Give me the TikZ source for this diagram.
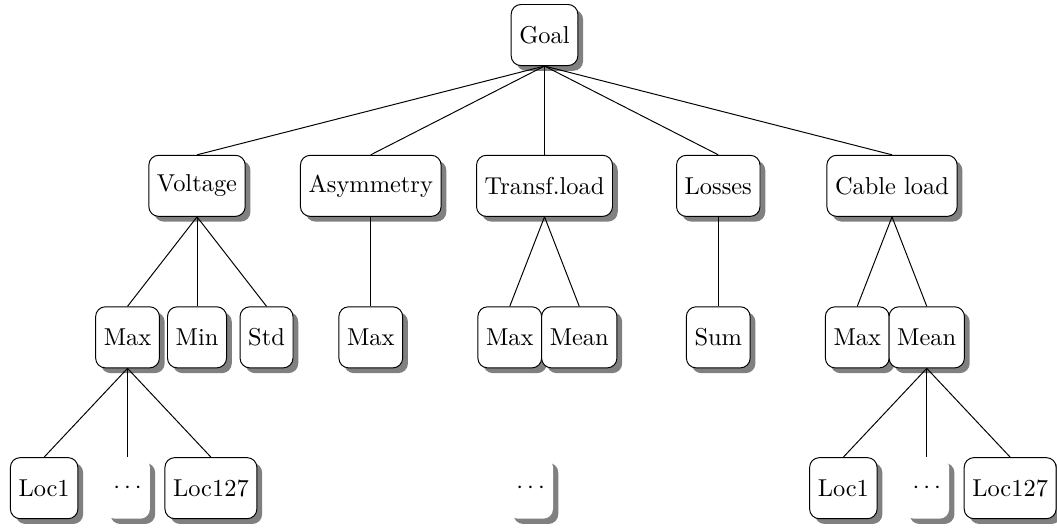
\documentclass[tikz,border=0pt]{standalone}
\usetikzlibrary{shadows}
\begin{document}
\begin{tikzpicture}
  \useasboundingbox (-7.835,0.504) rectangle (7.374,-7.079);
  \begin{scope}[every node/.style={draw, fill=white, rounded corners, minimum height=2.5em,
                                   drop shadow={fill=black!50, opacity=1}}]
    \node (goal) at (0,0) {Goal};
    \node (volt) at (-5,-2.17) {Voltage};
    \node (asym) at (-2.5,-2.17) {Asymmetry};
    \node (trans) at (0,-2.17) {Transf.load};
    \node (loss) at (2.5,-2.17) {Losses};
    \node (cable) at (5,-2.17) {Cable load};
    \node (vmax) at (-6,-4.35) {Max};
    \node (vmin) at (-5,-4.35) {Min};
    \node (vstd) at (-4,-4.35) {Std};
    \node (amax) at (-2.5,-4.35) {Max};
    \node (tmax) at (-0.5,-4.35) {Max};
    \node (tmean) at (0.5,-4.35) {Mean};
    \node (lsum) at (2.5,-4.35) {Sum};
    \node (cmax) at (4.5,-4.35) {Max};
    \node (cmean) at (5.5,-4.35) {Mean};
    \node (vloc1) at (-7.2,-6.52) {Loc1};
    \node[draw=none] (vdots) at (-6,-6.52) {$\cdots$};
    \node (vloc127) at (-4.8,-6.52) {Loc127};
    \node[draw=none] (mdots) at (-0.2,-6.52) {$\cdots$};
    \node (cloc1) at (4.3,-6.52) {Loc1};
    \node[draw=none] (cdots) at (5.5,-6.52) {$\cdots$};
    \node (cloc127) at (6.7,-6.52) {Loc127};
  \end{scope}
  \begin{scope}[every edge/.style={draw=black}]
    \path (goal.south) edge (volt.north);
    \path (goal.south) edge (asym.north);
    \path (goal.south) edge (trans.north);
    \path (goal.south) edge (loss.north);
    \path (goal.south) edge (cable.north);
    \path (volt.south) edge (vmax.north);
    \path (volt.south) edge (vmin.north);
    \path (volt.south) edge (vstd.north);
    \path (asym.south) edge (amax.north);
    \path (trans.south) edge (tmax.north);
    \path (trans.south) edge (tmean.north);
    \path (loss.south) edge (lsum.north);
    \path (cable.south) edge (cmax.north);
    \path (cable.south) edge (cmean.north);
    \path (vmax.south) edge (vloc1.north);
    \path (vmax.south) edge (vdots.north);
    \path (vmax.south) edge (vloc127.north);
    \path (cmean.south) edge (cloc1.north);
    \path (cmean.south) edge (cdots.north);
    \path (cmean.south) edge (cloc127.north);
  \end{scope}
\end{tikzpicture}
\end{document}
